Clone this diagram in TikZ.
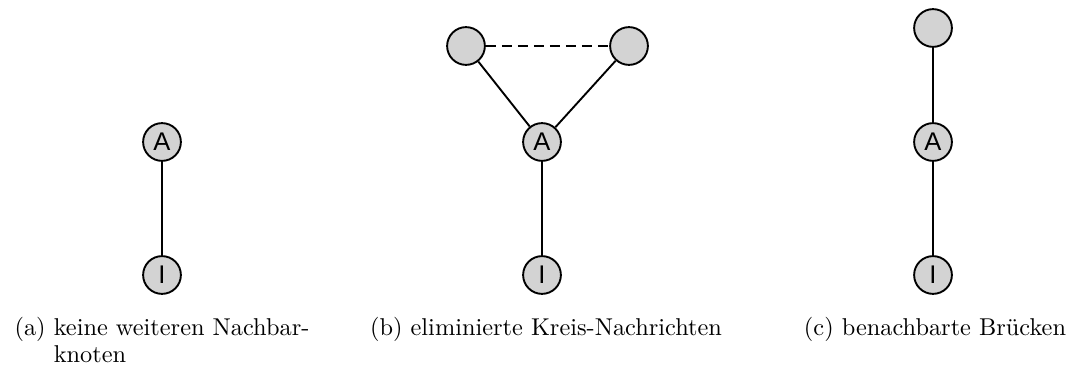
\documentclass[tikz,border=0pt]{standalone}
\usepackage{fontspec}
\newfontfamily\nodefont{Liberation Sans}
\usepackage{tikz}
\usetikzlibrary{positioning}
\definecolor{nodeGray}{RGB}{211,211,211}
\tikzstyle{graphNode}=[draw,fill=nodeGray,circle,minimum size=17pt,inner sep=0pt,line width=0.85pt,font=\nodefont\fontsize{11.5}{12}\selectfont]
\tikzstyle{edgeLine}=[line width=0.85pt]
\tikzstyle{cycleEdge}=[line width=0.85pt, dash pattern=on 4.5pt off 2.7pt]
\tikzstyle{subCaption}=[anchor=base, inner sep=0pt, align=left, font=\fontsize{10.95}{12}\selectfont]

\begin{document}
\begin{tikzpicture}[x=0.45pt, y=-0.45pt]
        \useasboundingbox (0, 0) rectangle (1072, 367);

        % (a)
        \node[graphNode] (a1) at (162, 142) {A};
        \node[graphNode] (i1) at (162, 275) {I};
        \draw[edgeLine] (a1) -- (i1);

        % (b)
        \node[graphNode] (n1) at (466, 46) {};
        \node[graphNode] (n2) at (629, 46) {};
        \node[graphNode] (a2) at (542, 142) {A};
        \node[graphNode] (i2) at (542, 275) {I};
        \draw[cycleEdge] (n1) -- (n2);
        \draw[edgeLine] (n1) -- (a2);
        \draw[edgeLine] (n2) -- (a2);
        \draw[edgeLine] (a2) -- (i2);

        % (c)
        \node[graphNode] (n3) at (933, 28) {};
        \node[graphNode] (a3) at (933, 142) {A};
        \node[graphNode] (i3) at (933, 275) {I};
        \draw[edgeLine] (n3) -- (a3);
        \draw[edgeLine] (a3) -- (i3);

        \node[subCaption] (c1) at (162, 362) {(a) keine weiteren Nachbar-\\\hphantom{(a)~}knoten};
        \node[subCaption] (c2) at (546, 335) {(b) eliminierte Kreis-Nachrichten};
        \node[subCaption] (c3) at (935, 335) {(c) benachbarte Brücken};

    \end{tikzpicture}
\end{document}
